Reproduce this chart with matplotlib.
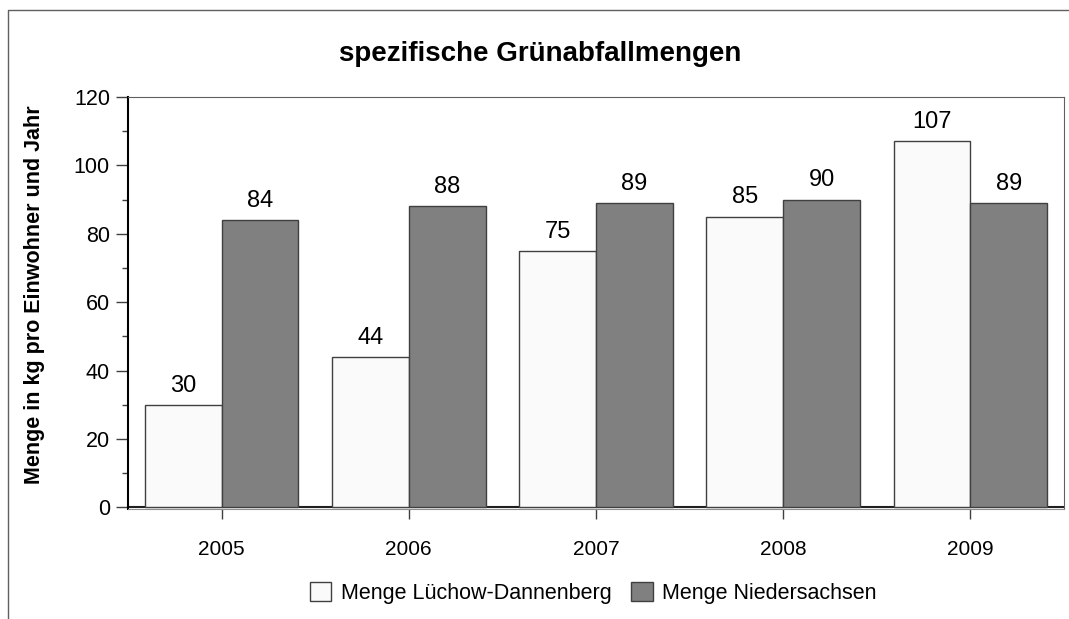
import numpy as np
import matplotlib.pyplot as plt
from matplotlib.patches import Patch
from matplotlib.lines import Line2D

plt.rcParams['font.family'] = ['Liberation Sans', 'DejaVu Sans']

# Data
years = ['2005', '2006', '2007', '2008', '2009']
luechow = [30, 44, 75, 85, 107]
niedersachsen = [84, 88, 89, 90, 89]

fig = plt.figure(figsize=(10.69, 6.19), dpi=100)
ax = fig.add_axes([0.1197, 0.1776, 0.8756, 0.6657])

x = np.arange(len(years))
w = 0.41
b1 = ax.bar(x - w / 2, luechow, w, color='#fafafa', edgecolor='#404040', linewidth=1, zorder=3)
b2 = ax.bar(x + w / 2, niedersachsen, w, color='#808080', edgecolor='#404040', linewidth=1, zorder=3)

for bars, vals in ((b1, luechow), (b2, niedersachsen)):
    for r, v in zip(bars, vals):
        ax.text(r.get_x() + r.get_width() / 2, v + 2.4, str(v), ha='center', va='bottom', fontsize=17)

ax.set_xlim(-0.5, 4.5)
ax.set_ylim(-0.5, 120)
ax.axhline(0, color='#202020', linewidth=1.5, zorder=2)

ax.set_yticks(np.arange(0, 121, 20))
ax.set_yticks(np.arange(10, 120, 20), minor=True)
ax.set_xticks(x)
ax.set_xticklabels(years)
ax.tick_params(axis='y', which='major', direction='out', length=9, width=1, color='#404040', labelsize=15.5, pad=4)
ax.tick_params(axis='y', which='minor', direction='out', length=4.5, width=1, color='#404040')
ax.tick_params(axis='x', direction='out', length=7.5, width=1, color='#404040', labelsize=15, pad=15)

ax.spines['left'].set_color('black')
ax.spines['left'].set_linewidth(1.5)
ax.spines['bottom'].set_color('#909090')
ax.spines['top'].set_color('#606060')
ax.spines['right'].set_color('#606060')

ax.set_ylabel('Menge in kg pro Einwohner und Jahr', fontsize=15.5, fontweight='bold')
ax.yaxis.set_label_coords(-0.089, 0.52)
fig.text(0.505, 0.912, 'spezifische Grünabfallmengen', ha='center', va='center', fontsize=20, fontweight='bold')

# outer frame of the original chart (cut off at the right and bottom)
fig.add_artist(Line2D([8 / 1069, 8 / 1069, 1.0], [0.0, 1 - 10 / 619, 1 - 10 / 619],
                      transform=fig.transFigure, color='#606060', linewidth=1))

handles = [Patch(facecolor='#fafafa', edgecolor='#404040', label='Menge Lüchow-Dannenberg'),
           Patch(facecolor='#808080', edgecolor='#404040', label='Menge Niedersachsen')]
fig.legend(handles=handles, loc='center', bbox_to_anchor=(0.555, 0.042), ncol=2, frameon=False,
           fontsize=15.5, handlelength=1.0, handleheight=1.0, columnspacing=0.9, handletextpad=0.45)

fig.savefig('out.png', dpi=100)
